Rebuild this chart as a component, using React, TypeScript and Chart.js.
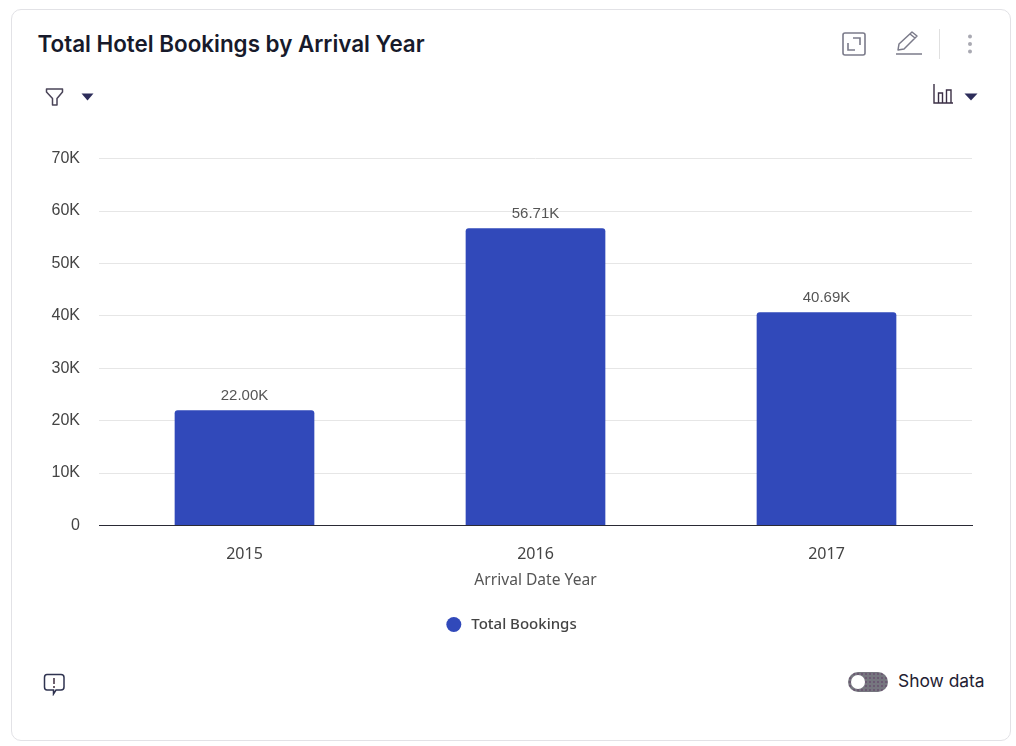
import React, { useEffect, useRef } from "react";
import { Chart, registerables, Plugin } from "chart.js";

Chart.register(...registerables);

const years = ["2015", "2016", "2017"];
const totalBookings = [22000, 56710, 40690];
const seriesName = "Total Bookings";
const xTitle = "Arrival Date Year";
const barColor = "#3149BA";

const fmtK = (v: number) => (v / 1000).toFixed(2) + "K";

// value labels above each bar
const barLabels: Plugin<"bar"> = {
  id: "barLabels",
  afterDatasetsDraw(chart) {
    const ctx = chart.ctx;
    const meta = chart.getDatasetMeta(0);
    ctx.save();
    ctx.font = '15px "Liberation Sans"';
    ctx.fillStyle = "#555555";
    ctx.textAlign = "center";
    ctx.textBaseline = "alphabetic";
    meta.data.forEach((bar, i) => {
      ctx.fillText(fmtK(totalBookings[i]), bar.x, bar.y - 10);
    });
    ctx.restore();
  },
};

const iconStroke = "#7b7b8a";

function Icon({ left, top, w, h, children }: any) {
  return (
    <svg
      width={w}
      height={h}
      viewBox={`0 0 ${w} ${h}`}
      fill="none"
      style={{ position: "absolute", left, top }}
    >
      {children}
    </svg>
  );
}

export default function App() {
  const chartRef = useRef<HTMLCanvasElement | null>(null);

  useEffect(() => {
    document.body.style.margin = "0";
    document.body.style.overflow = "hidden";
    const canvas = chartRef.current;
    if (!canvas) return;

    const chart = new Chart(canvas, {
      type: "bar",
      data: {
        labels: years,
        datasets: [
          {
            label: seriesName,
            data: totalBookings,
            backgroundColor: barColor,
            borderRadius: { topLeft: 3, topRight: 3, bottomLeft: 0, bottomRight: 0 },
            borderSkipped: false,
            barPercentage: 0.48,
            categoryPercentage: 1,
          },
        ],
      },
      options: {
        responsive: false,
        animation: false,
        layout: { padding: { top: 6, right: 44, left: 51, bottom: 0 } },
        scales: {
          x: {
            afterFit: (axis) => {
              axis.height = 81.5;
            },
            grid: { display: false },
            border: { color: "#2a2a35", width: 1 },
            ticks: {
              color: "#444444",
              font: { family: "Noto Sans", size: 16 },
              padding: 11,
            },
            title: {
              display: true,
              text: xTitle,
              color: "#555555",
              font: { family: "Noto Sans", size: 15.6 },
              padding: { top: 2, bottom: 17 },
            },
          },
          y: {
            min: 0,
            max: 70000,
            afterFit: (axis) => {
              axis.width = 48;
            },
            border: { display: false },
            grid: { color: "#e6e6e6", drawTicks: false },
            ticks: {
              stepSize: 10000,
              padding: 19,
              color: "#444444",
              font: { family: "Liberation Sans", size: 16 },
              callback: (v) => (Number(v) === 0 ? "0" : Number(v) / 1000 + "K"),
            },
          },
        },
        plugins: {
          tooltip: { enabled: false },
          legend: {
            position: "bottom",
            labels: {
              usePointStyle: true,
              pointStyle: "circle",
              boxHeight: 10.6,
              color: "#444444",
              padding: 10,
              font: { family: "Noto Sans", size: 15, weight: 500 },
              // thin space: the default gap to the marker is a bit tight
              generateLabels: (c) =>
                Chart.defaults.plugins.legend.labels
                  .generateLabels(c)
                  .map((item) => ({ ...item, text: "\u2009" + item.text })),
            },
          },
        },
      },
      plugins: [barLabels],
    });

    return () => chart.destroy();
  }, []);

  return (
    <div style={{ position: "relative", width: 1016, height: 746, background: "#fff", overflow: "hidden" }}>
      <div
        style={{
          position: "absolute",
          left: 11,
          top: 9,
          width: 998,
          height: 730,
          border: "1px solid #e2e2e6",
          borderRadius: 10,
        }}
      />
      <canvas
        ref={chartRef}
        width={1016}
        height={512}
        style={{ position: "absolute", left: 0, top: 130, width: 1016, height: 512 }}
      />
      <div
        style={{
          position: "absolute",
          left: 37.5,
          top: 29,
          fontFamily: "Inter",
          fontWeight: 600,
          fontSize: 22.4,
          lineHeight: "30px",
          color: "#171a2b",
          whiteSpace: "nowrap",
        }}
      >
        Total Hotel Bookings by Arrival Year
      </div>

      {/* expand */}
      <Icon left={842} top={32} w={24} h={24}>
        <rect x="1" y="1" width="22" height="22" rx="2" stroke={iconStroke} strokeWidth="1.6" />
        <path d="M11 6h7v7M13 18H6v-7" stroke={iconStroke} strokeWidth="1.6" />
      </Icon>
      {/* pencil */}
      <Icon left={895} top={30} w={28} h={26}>
        <path d="M3 20 L4 14 L17 2 L22 6 L9 19 Z M15 4 L20 8" stroke={iconStroke} strokeWidth="1.5" strokeLinejoin="round" />
        <path d="M1 24 H27" stroke={iconStroke} strokeWidth="1.5" />
      </Icon>
      <div style={{ position: "absolute", left: 939, top: 29, width: 1, height: 30, background: "#e0e0e0" }} />
      {/* kebab */}
      <Icon left={966} top={33} w={8} h={22}>
        <circle cx="4" cy="3.5" r="2" fill="#a9a9b2" />
        <circle cx="4" cy="11" r="2" fill="#a9a9b2" />
        <circle cx="4" cy="18.5" r="2" fill="#a9a9b2" />
      </Icon>
      {/* filter */}
      <Icon left={45} top={87} w={20} h={20}>
        <path d="M1.5 2 H17.5 V5 L12 11.5 V18 H7.5 V11.5 L1.5 5 Z" stroke="#4a4458" strokeWidth="1.5" strokeLinejoin="round" />
      </Icon>
      <Icon left={81} top={93} w={13} h={8}>
        <path d="M0.5 0.5 H12.5 L6.5 7.5 Z" fill="#2d2d5a" />
      </Icon>
      {/* chart type */}
      <Icon left={932} top={83} w={22} h={22}>
        <path d="M2 1 V20 H21" stroke="#3b2f45" strokeWidth="1.4" />
        <path d="M6.5 20 V10 H10.5 V20 M14.5 20 V7 H19 V20" stroke="#3b2f45" strokeWidth="1.4" />
      </Icon>
      <Icon left={964} top={93} w={14} h={8}>
        <path d="M0.5 0.5 H13.5 L7 7.5 Z" fill="#2d2d5a" />
      </Icon>
      {/* feedback */}
      <Icon left={43} top={673} w={23} h={23}>
        <path d="M4 1.5 H18 Q21 1.5 21 4.5 V14 Q21 17 18 17 H13 L10.5 21 L10.5 17 H4 Q1.5 17 1.5 14 V4.5 Q1.5 1.5 4 1.5 Z" stroke="#2f3350" strokeWidth="1.5" />
        <path d="M11 5 V11 M11 13 V15" stroke="#4a3a4a" strokeWidth="1.6" />
      </Icon>
      {/* toggle */}
      <div
        style={{
          position: "absolute",
          left: 848,
          top: 672,
          width: 40,
          height: 20,
          borderRadius: 10,
          backgroundColor: "#76767f",
          backgroundImage: "radial-gradient(#6b5a72 1px, transparent 1px)",
          backgroundSize: "4px 4px",
        }}
      >
        <div
          style={{
            position: "absolute",
            left: 3,
            top: 3,
            width: 14,
            height: 14,
            borderRadius: 7,
            background: "#fff",
          }}
        />
      </div>
      <div
        style={{
          position: "absolute",
          left: 898,
          top: 668,
          fontFamily: "Inter",
          fontSize: 17.4,
          lineHeight: "26px",
          color: "#1f2233",
          whiteSpace: "nowrap",
        }}
      >
        Show data
      </div>
    </div>
  );
}
